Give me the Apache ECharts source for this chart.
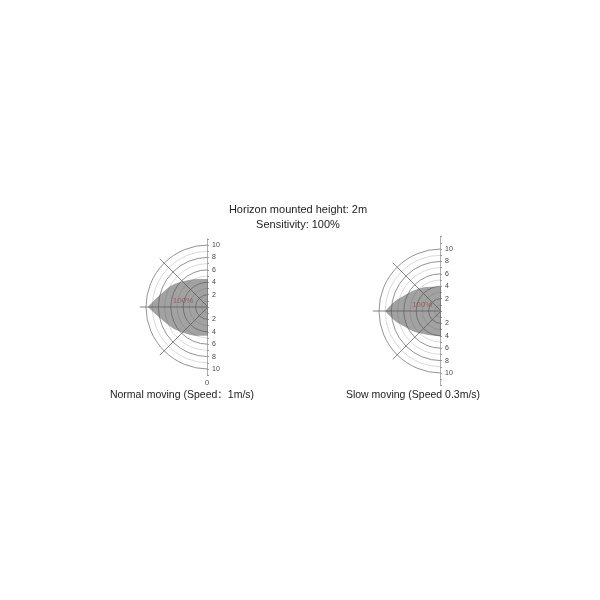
<!DOCTYPE html>
<html>
<head>
<meta charset="utf-8">
<title>Detection range</title>
<script src="https://cdn.jsdelivr.net/npm/echarts@6/dist/echarts.min.js"></script>
<style>
	html, body { margin: 0; padding: 0; background: #fff; }
	#chart { width: 600px; height: 600px; }
</style>
</head>
<body>
<div id="chart"></div>
<script>
// detection lobes as [distance m, angle deg], angle 0 = up, 90 = straight out, 180 = down
const normalTop = [[4.5, 0], [4.85, 21], [5.8, 44], [6.8, 59], [8.0, 76], [9.7, 90]];
const normalBottom = [[9.7, 90], [7.95, 103], [6.7, 120], [5.8, 136], [5.0, 159], [4.65, 180]];
const slowTop = [[3.9, 0], [4.45, 30], [5.4, 51], [6.35, 66], [7.6, 78], [9.0, 90]];
const slowBottom = [[9.0, 90], [7.6, 102], [6.35, 114], [5.4, 129], [4.45, 149], [4.1, 180]];

// where the "100%" mark sits inside each lobe
const normalMark = [[4.15, 76]];
const slowMark = [[3.2, 72]];
const markText = "100%";

// distance labels on the vertical axis
const rangeLabels = [2, 4, 6, 8, 10];

const titleLines = ["Horizon mounted height: 2m", "Sensitivity: 100%"];
const captions = ["Normal moving (Speed：1m/s)", "Slow moving (Speed 0.3m/s)"];

const font = "'Liberation Sans', 'Noto Sans CJK SC', sans-serif";
const dark = "#777";
const light = "#cfcfcf";
// ring colours by tick 0..11: even rings darker, odd lighter, none at 0 and 11
const ringColors = ["transparent", light, dark, light, dark, light, dark, light, dark, light, dark, "transparent"];

const chart = echarts.init(document.getElementById("chart"));

function angleAxis(i) {
	return {
		polarIndex: i,
		type: "value",
		min: 0,
		max: 180,
		interval: 45,
		startAngle: 90,
		endAngle: 270,
		clockwise: false,
		axisLine: { show: false },
		axisTick: { show: false },
		axisLabel: { show: false },
		splitLine: {
			lineStyle: { color: ["transparent", "#666", "#666", "#666", "transparent"], width: 0.8 },
		},
	};
}

function radiusAxis(i) {
	return {
		polarIndex: i,
		type: "value",
		min: 0,
		max: 11,
		interval: 1,
		axisLine: { show: false },
		axisTick: { show: false },
		axisLabel: { show: false },
		splitLine: { lineStyle: { color: ringColors, width: 0.8 } },
	};
}

function distAxis(i, lim, name) {
	return {
		gridIndex: i,
		type: "value",
		position: "right",
		min: -lim,
		max: lim,
		interval: 1,
		axisLine: { lineStyle: { color: "#9a9a9a", width: 0.8 } },
		axisTick: { length: 2, lineStyle: { color: "#9a9a9a" } },
		axisLabel: {
			interval: 0,
			fontSize: 7,
			color: "#444",
			margin: 4,
			fontFamily: font,
			formatter: (v) => (rangeLabels.includes(Math.abs(v)) ? String(Math.abs(v)) : ""),
		},
		splitLine: { show: false },
		name: name,
		nameLocation: "start",
		nameGap: 4,
		nameTextStyle: { fontSize: 8, color: "#555", fontFamily: font },
	};
}

function lobe(i, data) {
	return {
		type: "line",
		coordinateSystem: "polar",
		polarIndex: i,
		data: data,
		smooth: 0.3,
		showSymbol: false,
		silent: true,
		lineStyle: { opacity: 0 },
		areaStyle: { color: "#555", opacity: 0.55 },
	};
}

function mark(i, data) {
	return {
		type: "scatter",
		coordinateSystem: "polar",
		polarIndex: i,
		data: data,
		symbolSize: 0,
		silent: true,
		label: {
			show: true,
			position: "inside",
			formatter: markText,
			fontSize: 8,
			color: "#e04848",
			fontFamily: font,
		},
	};
}

const textStyle = { fontSize: 11, fontWeight: "normal", color: "#222", fontFamily: font };
const captionStyle = { fontSize: 10.5, fontWeight: "normal", color: "#222", fontFamily: font };

chart.setOption({
	animation: false,
	title: [
		{ text: titleLines[0], left: 298, top: 204, textAlign: "center", padding: 0, textStyle },
		{ text: titleLines[1], left: 298, top: 219, textAlign: "center", padding: 0, textStyle },
		{ text: captions[0], left: 182, top: 390, textAlign: "center", padding: 0, textStyle: captionStyle },
		{ text: captions[1], left: 413, top: 390, textAlign: "center", padding: 0, textStyle: captionStyle },
	],
	polar: [
		{ center: [208, 307], radius: 68.2 },
		{ center: [441, 311], radius: 68.2 },
	],
	angleAxis: [angleAxis(0), angleAxis(1)],
	radiusAxis: [radiusAxis(0), radiusAxis(1)],
	grid: [
		{ left: 207, width: 1, top: 238.8, height: 136.4 },
		{ left: 440, width: 1, top: 236.6, height: 148.8 },
	],
	xAxis: [
		{ gridIndex: 0, type: "value", show: false, min: 0, max: 1 },
		{ gridIndex: 1, type: "value", show: false, min: 0, max: 1 },
	],
	yAxis: [distAxis(0, 11, "0"), distAxis(1, 12, "")],
	series: [
		lobe(0, normalTop),
		lobe(0, normalBottom),
		mark(0, normalMark),
		lobe(1, slowTop),
		lobe(1, slowBottom),
		mark(1, slowMark),
	],
});
</script>
</body>
</html>
